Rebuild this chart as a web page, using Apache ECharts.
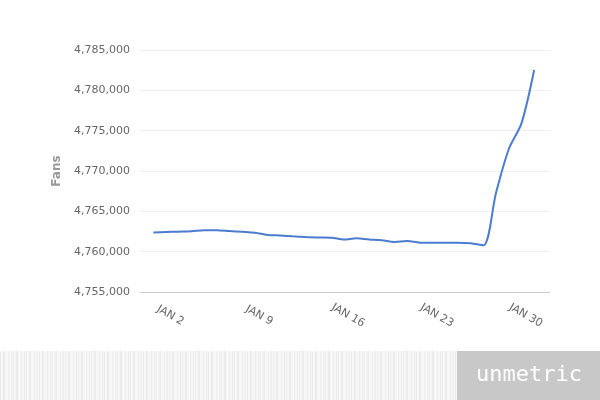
<!DOCTYPE html>
<html>
<head>
<meta charset="utf-8">
<script src="https://cdn.jsdelivr.net/npm/echarts@6/dist/echarts.min.js"></script>
<style>
html,body{margin:0;padding:0;background:#fff;}
#chart{width:600px;height:400px;}
</style>
</head>
<body>
<div id="chart"></div>
<script>
// Days of January
var days = [1,2,3,4,5,6,7,8,9,10,11,12,13,14,15,16,17,18,19,20,21,22,23,24,25,26,27,28,29,30,31];
// Fans count per day
var fans = [4762380,4762440,4762480,4762530,4762660,4762660,4762560,4762460,4762340,4762070,
            4762000,4761900,4761820,4761760,4761740,4761500,4761650,4761510,4761410,4761210,
            4761320,4761120,4761110,4761110,4761110,4761040,4760790,4767300,4772700,4775900,4782520];
// Tick days and labels
var tickDays = [2,9,16,23,30];
var tickLabels = ['JAN 2','JAN 9','JAN 16','JAN 23','JAN 30'];

var seriesData = days.map(function(d,i){return [d, fans[i]];});

// stripe pattern for watermark band
var pc = document.createElement('canvas');
pc.width = 13; pc.height = 4;
var pctx = pc.getContext('2d');
pctx.fillStyle = '#f7f7f7'; pctx.fillRect(0,0,13,4);
pctx.fillStyle = '#ececec';
[0,3,4,8,11].forEach(function(x){pctx.fillRect(x,0,1,4);});

var chart = echarts.init(document.getElementById('chart'), null, {renderer:'canvas'});
chart.setOption({
  animation:false,
  backgroundColor:'#fff',
  grid:{left:140,right:50,top:50,bottom:108,containLabel:false},
  xAxis:{
    type:'value',
    min:-0.05,
    max:32.25,
    axisLine:{show:true,lineStyle:{color:'#cccccc',width:1}},
    axisTick:{show:false},
    splitLine:{show:false},
    axisLabel:{
      customValues:tickDays,
      rotate:-30,
      align:'center',
      verticalAlign:'middle',
      margin:21,
      padding:[0,0,0,10],
      color:'#666',
      fontFamily:'DejaVu Sans',
      fontSize:11,
      formatter:function(v){var i=tickDays.indexOf(v);return i>=0?tickLabels[i]:'';}
    }
  },
  yAxis:{
    type:'value',
    min:4755000,
    max:4785000,
    interval:5000,
    name:'Fans',
    nameLocation:'middle',
    nameGap:74,
    nameTextStyle:{color:'#999',fontFamily:'DejaVu Sans',fontSize:12,fontWeight:'bold'},
    axisLine:{show:false},
    axisTick:{show:false},
    splitLine:{show:true,lineStyle:{color:'#efefef',width:1}},
    axisLabel:{
      color:'#666',
      fontFamily:'DejaVu Sans',
      fontSize:11,
      margin:10,
      formatter:function(v){return v.toString().replace(/\B(?=(\d{3})+(?!\d))/g, ',');}
    }
  },
  series:[{
    type:'line',
    data:seriesData,
    smooth:0.3,
    showSymbol:false,
    lineStyle:{color:'#4a7cd0',width:2},
    itemStyle:{color:'#4a7cd0'}
  }],
  graphic:[
    {type:'rect',left:0,top:351,shape:{width:457,height:49},style:{fill:{image:pc,repeat:'repeat'}},silent:true},
    {type:'rect',left:457,top:351,shape:{width:143,height:49},style:{fill:'#c8c8c8'},silent:true},
    {type:'text',left:476,top:364,style:{text:'unmetric',fill:'#ffffff',font:'22px "DejaVu Sans Mono"'},silent:true}
  ]
});
</script>
</body>
</html>
